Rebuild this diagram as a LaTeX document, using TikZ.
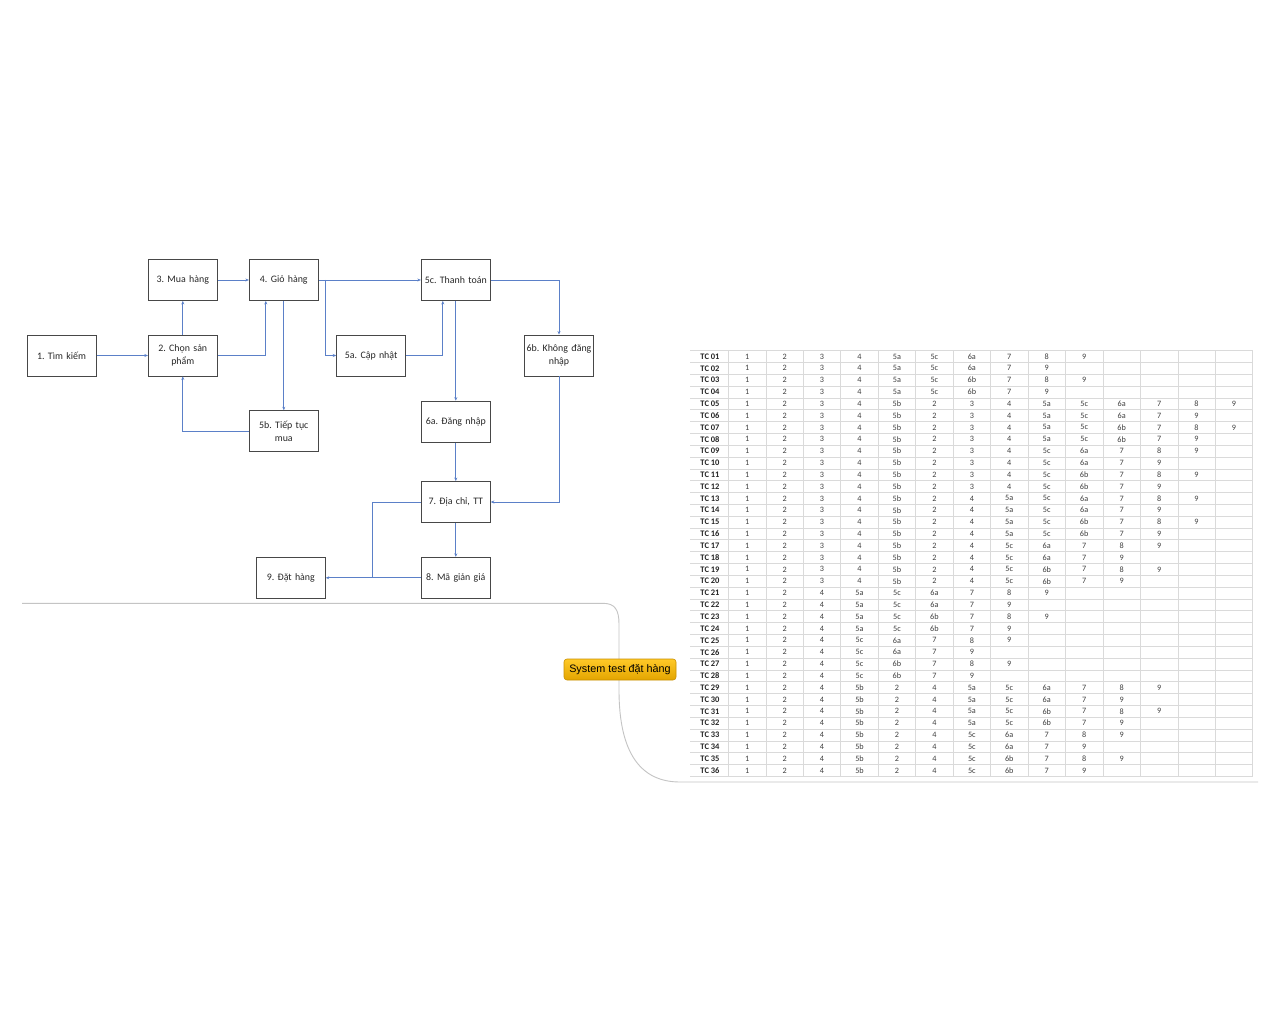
\documentclass[tikz,border=0pt]{standalone}
\usepackage{fontspec}
\setmainfont{Carlito}
\newfontfamily\topicfont{Liberation Sans}
\usetikzlibrary{arrows.meta}
\definecolor{boxline}{HTML}{474747}
\definecolor{boxtext}{HTML}{262626}
\definecolor{arrowblue}{HTML}{5B80C8}
\definecolor{gridgray}{HTML}{DADADA}
\definecolor{curvegray}{HTML}{C4C4C4}
\definecolor{valgray}{HTML}{404040}
\definecolor{topictop}{HTML}{FFC928}
\definecolor{topicbot}{HTML}{E3A500}
\definecolor{topicline}{HTML}{C99000}
\frenchspacing
\tikzset{
  flowbox/.style={draw=boxline, line width=0.9pt, fill=white, minimum width=69pt, minimum height=41pt,
    inner sep=0pt, text width=68pt, align=center, text=boxtext,
    font=\frenchspacing\fontsize{9.9}{13}\selectfont},
  arr/.style={draw=arrowblue, line width=0.7pt, -{Stealth[length=3.5pt,width=3pt]}},
  plainline/.style={draw=arrowblue, line width=0.7pt},
  tclab/.style={inner sep=0pt, text=boxtext, font=\fontsize{8.5}{9}\selectfont\bfseries},
  tcval/.style={inner sep=0pt, text=valgray, font=\fontsize{8.2}{9}\selectfont},
  grid line/.style={draw=gridgray, line width=0.6pt},
  topic/.style={draw=topicline, line width=0.6pt, rounded corners=3pt, top color=topictop, bottom color=topicbot,
    minimum width=112pt, minimum height=21pt, inner sep=0pt, text=black,
    font=\topicfont\fontsize{10.8}{12}\selectfont},
}
\begin{document}
\begin{tikzpicture}[x=1pt,y=-1pt]
\useasboundingbox (0,0) rectangle (1280,1024);
\fill[white] (0,0) rectangle (1280,1024);

% ---- flowchart boxes ----
\node[flowbox] (b1)  at (61.6,355.5)  {1. Tìm kiếm};
\node[flowbox] (b2)  at (182.8,355.5) {2. Chọn sản\\phẩm};
\node[flowbox] (b3)  at (182.8,280)   {3. Mua hàng};
\node[flowbox] (b4)  at (283.8,280)   {4. Giỏ hàng};
\node[flowbox] (b5b) at (283.8,431.2) {5b. Tiếp tục\\mua};
\node[flowbox] (b5c) at (455.8,280)   {5c. Thanh toán};
\node[flowbox] (b5a) at (371.2,355.5) {5a. Cập nhật};
\node[flowbox] (b6b) at (559,355.5)   {6b. Không đăng\\nhập};
\node[flowbox] (b6a) at (455.8,421.6) {6a. Đăng nhập};
\node[flowbox] (b7)  at (455.8,502)   {7. Địa chỉ, TT};
\node[flowbox] (b8)  at (455.8,577.8) {8. Mã giản giá};
\node[flowbox] (b9)  at (290.8,577.8) {9. Đặt hàng};

\coordinate (j1) at (325,280);
\coordinate (j2) at (372,577.8);

% ---- connectors ----
\draw[arr] (b1) -- (b2);
\draw[arr] (b2) -- (b3);
\draw[arr] (b3) -- (b4);
\draw[arr] (b2.east) -| ([xshift=-18pt]b4.south);
\draw[arr] (b4) -- (b5b);
\draw[arr] (b5b.west) -| (b2.south);
\draw[arr] (b4) -- (b5c);
\draw[arr] (j1) |- (b5a.west);
\draw[arr] (b5a.east) -| ([xshift=-13pt]b5c.south);
\draw[arr] (b5c) -- (b6a);
\draw[arr] (b5c.east) -| (b6b.north);
\draw[arr] (b6a) -- (b7);
\draw[arr] (b6b.south) |- (b7.east);
\draw[arr] (b7) -- (b8);
\draw[arr] (b8) -- (b9);
\draw[plainline] (b7.west) -| (j2);

% ---- mind map branch curve ----
\draw[curvegray, line width=0.9pt] (22,603.3) -- (603,603.3)
  .. controls (615,603.3) and (619,610) .. (619,624) -- (619,690)
  .. controls (619,755) and (642,782) .. (680,782) -- (1258,782);

% ---- table grid ----
\foreach \k in {0,...,36}
  \draw[grid line] (690,{350.5+11.83*\k}) -- (1252.7,{350.5+11.83*\k});
\foreach \k in {0,...,14}
  \draw[grid line] ({728.4+37.45*\k},350.5) -- ({728.4+37.45*\k},776.4);

% ---- table contents ----
\foreach \vals [count=\i] in {
 {1,2,3,4,5a,5c,6a,7,8,9},
 {1,2,3,4,5a,5c,6a,7,9},
 {1,2,3,4,5a,5c,6b,7,8,9},
 {1,2,3,4,5a,5c,6b,7,9},
 {1,2,3,4,5b,2,3,4,5a,5c,6a,7,8,9},
 {1,2,3,4,5b,2,3,4,5a,5c,6a,7,9},
 {1,2,3,4,5b,2,3,4,5a,5c,6b,7,8,9},
 {1,2,3,4,5b,2,3,4,5a,5c,6b,7,9},
 {1,2,3,4,5b,2,3,4,5c,6a,7,8,9},
 {1,2,3,4,5b,2,3,4,5c,6a,7,9},
 {1,2,3,4,5b,2,3,4,5c,6b,7,8,9},
 {1,2,3,4,5b,2,3,4,5c,6b,7,9},
 {1,2,3,4,5b,2,4,5a,5c,6a,7,8,9},
 {1,2,3,4,5b,2,4,5a,5c,6a,7,9},
 {1,2,3,4,5b,2,4,5a,5c,6b,7,8,9},
 {1,2,3,4,5b,2,4,5a,5c,6b,7,9},
 {1,2,3,4,5b,2,4,5c,6a,7,8,9},
 {1,2,3,4,5b,2,4,5c,6a,7,9},
 {1,2,3,4,5b,2,4,5c,6b,7,8,9},
 {1,2,3,4,5b,2,4,5c,6b,7,9},
 {1,2,4,5a,5c,6a,7,8,9},
 {1,2,4,5a,5c,6a,7,9},
 {1,2,4,5a,5c,6b,7,8,9},
 {1,2,4,5a,5c,6b,7,9},
 {1,2,4,5c,6a,7,8,9},
 {1,2,4,5c,6a,7,9},
 {1,2,4,5c,6b,7,8,9},
 {1,2,4,5c,6b,7,9},
 {1,2,4,5b,2,4,5a,5c,6a,7,8,9},
 {1,2,4,5b,2,4,5a,5c,6a,7,9},
 {1,2,4,5b,2,4,5a,5c,6b,7,8,9},
 {1,2,4,5b,2,4,5a,5c,6b,7,9},
 {1,2,4,5b,2,4,5c,6a,7,8,9},
 {1,2,4,5b,2,4,5c,6a,7,9},
 {1,2,4,5b,2,4,5c,6b,7,8,9},
 {1,2,4,5b,2,4,5c,6b,7,9}}
{
  \node[tclab] (r\i) at (710,{350.5+11.83*(\i-0.5)}) {TC \ifnum\i<10 0\fi\i};
  \foreach \v [count=\j] in \vals
    \node[tcval] (c\i-\j) at ({728.4+37.45*(\j-0.5)},{350.5+11.83*(\i-0.5)}) {\v};
}

% ---- central topic ----
\node[topic] (topic) at (620,669.5) {System test đặt hàng};
\end{tikzpicture}
\end{document}
